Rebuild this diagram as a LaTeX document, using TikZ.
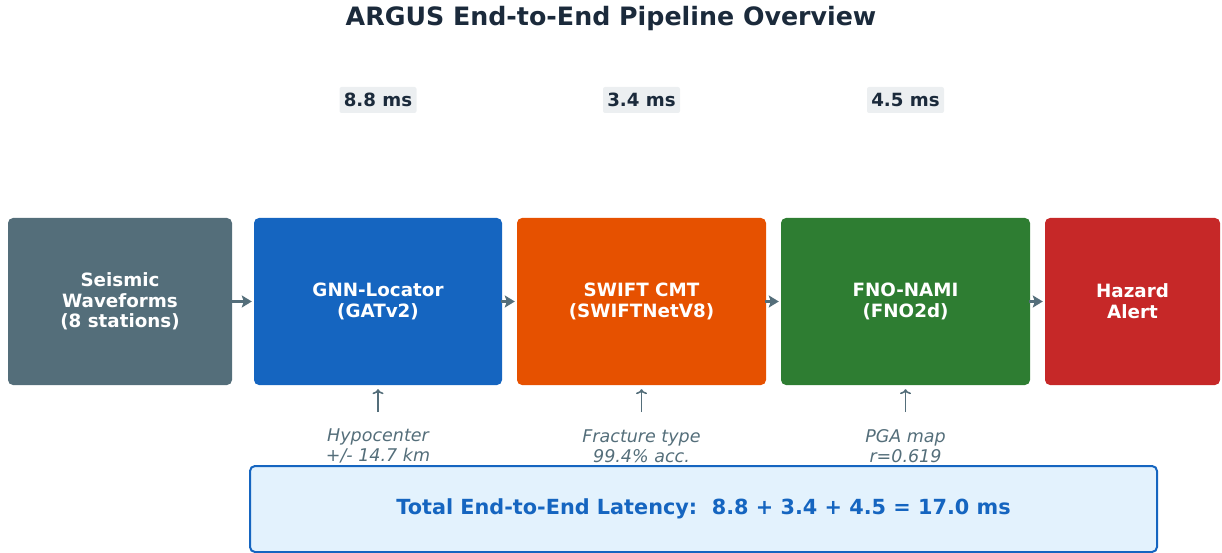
\documentclass[tikz,border=0pt]{standalone}
\usepackage{fontspec}
\setmainfont{DejaVu Sans}
\usetikzlibrary{arrows.meta}

\definecolor{slate}{HTML}{546E7A}
\definecolor{ink}{HTML}{1B2A3B}
\definecolor{locblue}{HTML}{1565C0}
\definecolor{cmtorange}{HTML}{E65100}
\definecolor{fnogreen}{HTML}{2E7D32}
\definecolor{alertred}{HTML}{C62828}
\definecolor{tagbg}{HTML}{ECEFF1}
\definecolor{totalbg}{HTML}{E3F2FD}

\tikzset{
  stage/.style={rectangle, rounded corners=5pt, minimum height=167pt,
    inner sep=0pt, text=white, align=center,
    font=\bfseries\fontsize{18.3}{20.7}\selectfont},
  timetag/.style={rectangle, rounded corners=2pt, fill=tagbg, text=ink,
    minimum width=77pt, minimum height=26pt, inner sep=0pt,
    font=\bfseries\fontsize{18.2}{21}\selectfont},
  flow/.style={draw=slate, line width=3.5pt,
    -{Stealth[length=10pt, width=12pt, inset=2pt]}, shorten <=-1pt, shorten >=2pt},
  feed/.style={draw=slate, line width=1.6pt,
    -{To[length=5pt, width=11pt]}, shorten >=4pt},
  outcome/.style={text=slate, align=center,
    font=\itshape\fontsize{17.5}{20}\selectfont},
}

\begin{document}
\begin{tikzpicture}[x=1pt, y=-1pt]
  \useasboundingbox (0,0) rectangle (1222,553);

  % heading
  \node (title) at (611,18.5) [text=ink, font=\bfseries\fontsize{25.3}{30}\selectfont]
    {ARGUS End-to-End Pipeline Overview};

  % pipeline stages
  \node (wave) at (120,301.5)  [stage, fill=slate,      minimum width=224pt] {Seismic\\Waveforms\\(8 stations)};
  \node (gnn)  at (378,301.5)  [stage, fill=locblue,    minimum width=248pt] {GNN-Locator\\(GATv2)};
  \node (cmt)  at (641.5,301.5)[stage, fill=cmtorange,  minimum width=249pt] {SWIFT CMT\\(SWIFTNetV8)};
  \node (fno)  at (905.5,301.5)[stage, fill=fnogreen,   minimum width=249pt] {FNO-NAMI\\(FNO2d)};
  \node (alert) at (1132.5,301.5)[stage, fill=alertred, minimum width=175pt] {Hazard\\Alert};

  % stage-to-stage flow
  \draw[flow] (wave.east) -- (gnn.west);
  \draw[flow] (gnn.east) -- (cmt.west);
  \draw[flow] (cmt.east) -- (fno.west);
  \draw[flow] (fno.east) -- (alert.west);

  % per-stage latency
  \node (tgnn) at (378,100)   [timetag] {8.8 ms};
  \node (tcmt) at (641.5,100) [timetag] {3.4 ms};
  \node (tfno) at (905.5,100) [timetag] {4.5 ms};

  % stage outputs
  \coordinate (fgnn) at (378,412);
  \coordinate (fcmt) at (641.5,412);
  \coordinate (ffno) at (905.5,412);
  \draw[feed] (fgnn) -- (gnn.south);
  \draw[feed] (fcmt) -- (cmt.south);
  \draw[feed] (ffno) -- (fno.south);

  \node (ognn) at (378,446)   [outcome] {Hypocenter\\+/- 14.7 km};
  \node (ocmt) at (641.5,446) [outcome] {Fracture type\\99.4\% acc.};
  \node (ofno) at (905.5,446) [outcome] {PGA map\\r=0.619};

  % total latency
  \node (total) at (703.5,509) [rectangle, rounded corners=5pt, draw=locblue,
    line width=2pt, fill=totalbg, minimum width=907pt, minimum height=86pt,
    inner sep=0pt, text=locblue, font=\bfseries\fontsize{20.8}{24}\selectfont]
    {Total End-to-End Latency:\ \ 8.8 + 3.4 + 4.5 = 17.0 ms};
\end{tikzpicture}
\end{document}
